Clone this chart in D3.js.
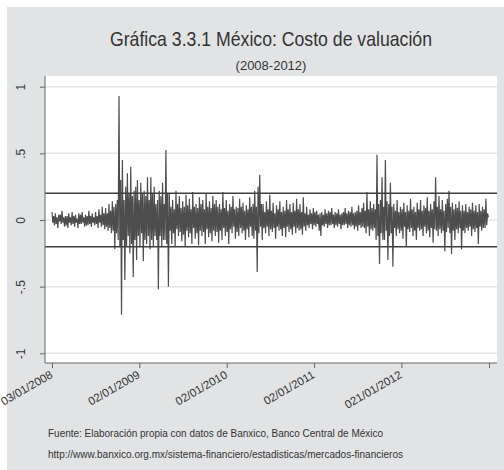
<!DOCTYPE html>
<html>
<head>
<meta charset="utf-8">
<title>Costo de valuación</title>
<script src="https://d3js.org/d3.v7.min.js"></script>
<style>
    body { margin: 0; background: #ffffff; }
    text { font-family: "Liberation Sans Narrow", "Liberation Sans", Arial, sans-serif; fill: #333333; }
</style>
</head>
<body>
<script>
    // weekly readings of the valuation cost series, from 03/01/2008:
    // the upper and the lower reading of each week
    var startDate = new Date(2008, 0, 3);
    var weekHigh = [
        0.06,0.03,0.05,0.02,0.04,0.04,0.07,0.02,0.03,0.03,0.05,0.02,0.06,0.03,0.04,0.01,
        0.05,0.04,0.06,0.02,0.04,0.03,0.07,0.03,0.05,0.02,0.06,0.03,0.08,0.04,0.10,0.05,
        0.09,0.05,0.12,0.07,0.14,0.10,0.12,0.15,
        0.93,0.30,
        0.45,0.15,0.25,0.35,0.20,0.40,0.18,0.22,0.25,0.30,0.15,0.28,0.20,0.22,0.18,0.32,
        0.15,0.32,0.20,0.25,0.12,0.15,0.22,0.18,0.28,0.12,0.525,0.20,
        0.20,0.10,0.15,0.08,0.22,0.12,0.18,0.09,0.14,0.10,0.19,0.11,0.16,0.08,0.21,0.10,
        0.12,0.09,0.17,0.12,0.15,0.08,0.20,0.10,0.14,0.09,0.18,0.12,0.15,0.10,
        0.12,0.08,0.21,0.09,0.15,0.07,0.12,0.10,0.18,0.08,0.10,0.09,0.16,0.10,0.13,0.07,
        0.11,0.08,0.17,0.10,0.12,0.22,
        0.10,0.25,0.34,0.12,
        0.12,0.06,0.14,0.08,0.19,0.07,0.13,0.05,0.11,0.08,0.14,0.06,0.10,0.07,0.15,0.08,
        0.12,0.06,0.13,0.07,0.16,0.08,0.12,0.06,
        0.17,0.05,0.10,0.04,0.08,0.05,0.09,0.06,0.07,0.04,0.05,0.06,0.04,0.08,0.05,0.07,
        0.06,0.09,0.04,0.06,0.05,0.08,0.04,0.05,0.06,0.09,0.05,0.07,0.06,0.10,0.05,0.06,
        0.07,0.11,0.06,0.09,
        0.13,0.07,0.21,0.08,0.14,0.09,0.12,0.08,
        0.49,0.12,0.15,0.32,0.10,0.45,0.14,0.12,0.28,0.10,
        0.12,0.07,0.15,0.06,0.10,0.08,0.13,0.06,0.11,0.07,0.16,0.08,0.10,0.06,0.13,0.08,
        0.15,0.07,0.11,0.09,0.17,0.07,0.12,0.08,0.14,
        0.32,
        0.10,0.18,0.08,0.15,0.07,0.12,0.16,0.22,0.10,0.13,0.08,0.12,0.09,0.14,0.07,0.11,
        0.07,0.12,0.06,0.10,0.08,0.13,0.07,0.11,0.06,0.12,0.07,0.10,0.08,0.16,0.05
    ];
    var weekLow = [
        -0.02,-0.04,-0.03,-0.06,-0.01,-0.03,-0.02,-0.05,-0.04,-0.06,-0.02,-0.04,-0.03,-0.05,-0.02,-0.06,
        -0.03,-0.03,-0.02,-0.05,-0.04,-0.04,-0.03,-0.05,-0.02,-0.04,-0.03,-0.06,-0.02,-0.05,-0.04,-0.07,
        -0.05,-0.08,-0.06,-0.10,-0.08,-0.22,-0.10,-0.15,
        -0.20,-0.71,
        -0.15,-0.45,-0.20,-0.12,-0.25,-0.18,-0.43,-0.15,-0.30,-0.12,-0.20,-0.10,-0.31,-0.15,-0.18,-0.12,
        -0.22,-0.15,-0.20,-0.12,-0.15,-0.52,-0.12,-0.20,-0.15,-0.15,-0.18,-0.50,
        -0.08,-0.18,-0.10,-0.20,-0.07,-0.12,-0.09,-0.16,-0.11,-0.20,-0.08,-0.13,-0.10,-0.18,-0.06,-0.14,
        -0.10,-0.19,-0.08,-0.12,-0.09,-0.18,-0.07,-0.13,-0.10,-0.16,-0.08,-0.12,-0.09,-0.17,
        -0.08,-0.15,-0.06,-0.12,-0.09,-0.18,-0.07,-0.10,-0.05,-0.14,-0.09,-0.12,-0.06,-0.10,-0.08,-0.15,
        -0.07,-0.13,-0.05,-0.12,-0.14,-0.08,
        -0.39,-0.10,-0.05,-0.15,
        -0.06,-0.10,-0.05,-0.12,-0.07,-0.09,-0.06,-0.14,-0.05,-0.08,-0.07,-0.12,-0.06,-0.13,-0.05,-0.09,
        -0.07,-0.11,-0.05,-0.10,-0.06,-0.08,-0.07,-0.11,
        -0.05,-0.08,-0.04,-0.06,-0.03,-0.07,-0.04,-0.05,-0.03,-0.08,-0.12,-0.04,-0.05,-0.03,-0.06,-0.04,
        -0.04,-0.03,-0.06,-0.04,-0.05,-0.03,-0.07,-0.04,-0.04,-0.03,-0.06,-0.04,-0.05,-0.04,-0.07,-0.05,
        -0.08,-0.04,-0.06,-0.05,
        -0.06,-0.10,-0.05,-0.12,-0.07,-0.08,-0.06,-0.15,
        -0.12,-0.33,-0.10,-0.15,-0.15,-0.08,-0.30,-0.12,-0.10,-0.35,
        -0.06,-0.12,-0.07,-0.10,-0.08,-0.14,-0.05,-0.20,-0.07,-0.09,-0.06,-0.12,-0.08,-0.15,-0.06,-0.08,
        -0.07,-0.12,-0.05,-0.10,-0.08,-0.13,-0.06,-0.17,-0.07,
        -0.08,
        -0.12,-0.07,-0.10,-0.08,-0.235,-0.09,-0.06,-0.10,-0.255,-0.08,-0.15,-0.07,-0.10,-0.06,-0.22,-0.08,
        -0.10,-0.06,-0.08,-0.05,-0.12,-0.07,-0.09,-0.06,-0.18,-0.05,-0.08,-0.06,-0.06,-0.04,0.02
    ];
    var bandLines = [0.2, -0.2];
    var yTicks = [-1, -0.5, 0, 0.5, 1];
    var yTickLabels = ["-1", "-.5", "0", ".5", "1"];
    var xTickDates = [new Date(2008, 0, 3), new Date(2009, 0, 2), new Date(2010, 0, 2),
                      new Date(2011, 0, 2), new Date(2012, 0, 2), new Date(2013, 0, 2)];
    var xTickLabels = ["03/01/2008", "02/01/2009", "02/01/2010", "02/01/2011", "021/01/2012", ""];

    // one point for each reading: the upper one at the start of the week, the lower one mid-week
    var data = [];
    weekHigh.forEach(function(v, i) {
        var d = d3.timeDay.offset(startDate, 7 * i);
        data.push({date: d, value: v});
        data.push({date: d3.timeHour.offset(d, 84), value: weekLow[i]});
    });

    var W = 504, H = 470;
    var plot = {left: 45, right: 497, top: 76, bottom: 363};

    var svg = d3.select("body").append("svg")
        .attr("width", W)
        .attr("height", H);

    // outer grey panel
    svg.append("rect").attr("x", 7).attr("y", 7).attr("width", W - 7).attr("height", H - 7)
        .attr("fill", "#e2e3e5");
    svg.append("rect").attr("x", plot.left).attr("y", plot.top)
        .attr("width", plot.right - plot.left).attr("height", plot.bottom - plot.top)
        .attr("fill", "#ffffff");

    var x = d3.scaleTime()
        .domain([xTickDates[0], xTickDates[xTickDates.length - 1]])
        .range([52, 489]);

    var y = d3.scaleLinear()
        .domain([-1, 1])
        .range([353.3, 86.7]);

    // grid
    svg.append("g").selectAll("line")
        .data(yTicks)
        .enter().append("line")
        .attr("x1", plot.left).attr("x2", plot.right)
        .attr("y1", function(d) { return y(d); })
        .attr("y2", function(d) { return y(d); })
        .attr("stroke", "#e6e6e6")
        .attr("stroke-width", 1.5);

    // series
    var line = d3.line()
        .x(function(d) { return x(d.date); })
        .y(function(d) { return y(d.value); });

    svg.append("path")
        .datum(data)
        .attr("d", line)
        .attr("fill", "none")
        .attr("stroke", "#4d4d4d")
        .attr("stroke-width", 1.2);

    // +/- 0.2 reference lines
    svg.append("g").selectAll("line")
        .data(bandLines)
        .enter().append("line")
        .attr("x1", plot.left).attr("x2", plot.right)
        .attr("y1", function(d) { return y(d); })
        .attr("y2", function(d) { return y(d); })
        .attr("stroke", "#3f3f3f")
        .attr("stroke-width", 1.5);

    // y axis
    var yAxis = d3.axisLeft(y)
        .tickValues(yTicks)
        .tickSize(5)
        .tickFormat(function(d, i) { return yTickLabels[i]; });
    var gy = svg.append("g")
        .attr("transform", "translate(" + plot.left + ",0)")
        .call(yAxis);
    gy.select(".domain").attr("d", "M0," + plot.top + "V" + plot.bottom).attr("stroke", "#666666");
    gy.selectAll(".tick line").attr("stroke", "#666666");
    gy.selectAll(".tick text")
        .attr("x", null).attr("dy", null)
        .attr("text-anchor", "middle")
        .attr("transform", "translate(-20,0) rotate(-90)")
        .style("font-size", "12px")
        .style("font-family", "'Liberation Sans', Arial, sans-serif");

    // x axis
    var xAxis = d3.axisBottom(x)
        .tickValues(xTickDates)
        .tickSize(5)
        .tickFormat(function(d, i) { return xTickLabels[i]; });
    var gx = svg.append("g")
        .attr("transform", "translate(0," + plot.bottom + ")")
        .call(xAxis);
    gx.select(".domain").attr("d", "M" + plot.left + ",0H" + plot.right).attr("stroke", "#666666");
    gx.selectAll(".tick line").attr("stroke", "#666666");
    gx.selectAll(".tick text")
        .attr("y", null).attr("dy", null)
        .attr("text-anchor", "end")
        .attr("transform", "translate(1,14) rotate(-30)")
        .style("font-size", "11.5px");

    // titles
    svg.append("text")
        .attr("x", 271).attr("y", 46)
        .attr("text-anchor", "middle")
        .attr("textLength", 322).attr("lengthAdjust", "spacingAndGlyphs")
        .style("font-size", "21px")
        .text("Gráfica 3.3.1 México: Costo de valuación");
    svg.append("text")
        .attr("x", 271).attr("y", 70)
        .attr("text-anchor", "middle")
        .style("font-size", "13px")
        .text("(2008-2012)");

    // source notes
    svg.append("text")
        .attr("x", 48).attr("y", 437)
        .attr("textLength", 335).attr("lengthAdjust", "spacingAndGlyphs")
        .style("font-size", "11.5px")
        .text("Fuente: Elaboración propia con datos de Banxico, Banco Central de México");
    svg.append("text")
        .attr("x", 48).attr("y", 458)
        .attr("textLength", 355).attr("lengthAdjust", "spacingAndGlyphs")
        .style("font-size", "11.5px")
        .text("http://www.banxico.org.mx/sistema-financiero/estadisticas/mercados-financieros");
</script>
</body>
</html>
